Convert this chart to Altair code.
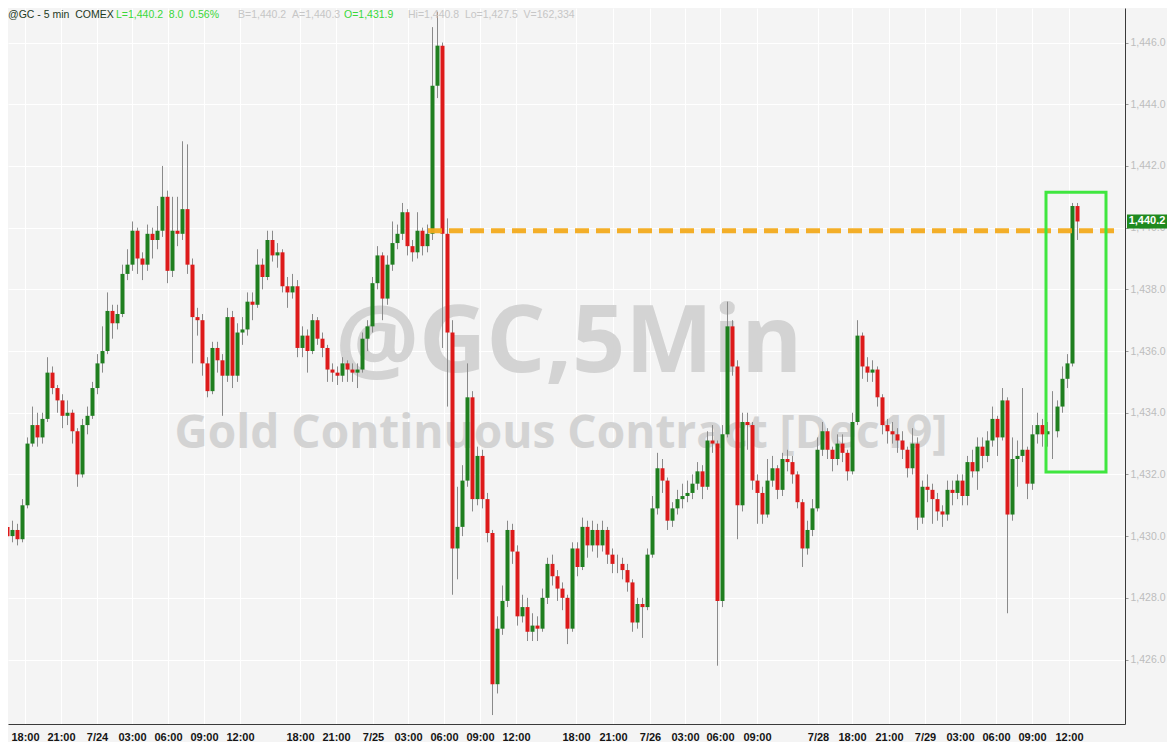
import altair as alt
import pandas as pd

# ---------------- data ----------------
first_open = 1430.5
closes = [
    1430.3, 1430.0, 1430.2, 1429.9, 1431.0, 1433.0, 1433.6, 1433.2, 1433.8, 1435.3,
    1434.8, 1434.4, 1433.9, 1434.0, 1433.4, 1432.0, 1433.6, 1433.9, 1434.8, 1435.6,
    1436.0, 1437.3, 1436.9, 1437.2, 1438.5, 1438.8, 1439.9, 1439.0, 1438.8, 1439.8,
    1439.6, 1439.9, 1441.0, 1438.6, 1439.9, 1439.8, 1440.6, 1438.8, 1437.1, 1437.0,
    1435.6, 1434.7, 1436.1, 1435.7, 1435.2, 1437.1, 1435.2, 1436.6, 1436.7, 1437.6,
    1437.5, 1438.8, 1438.4, 1439.6, 1439.1, 1439.2, 1438.1, 1437.9, 1438.1, 1436.1,
    1436.5, 1436.0, 1437.0, 1436.4, 1436.1, 1435.4, 1435.3, 1435.2, 1435.6, 1435.4,
    1435.3, 1435.4, 1436.4, 1436.8, 1438.2, 1439.1, 1437.7, 1438.8, 1439.5, 1439.8,
    1440.5, 1439.4, 1439.2, 1439.9, 1439.4, 1439.8, 1444.6, 1445.9, 1439.8, 1436.6,
    1429.6, 1430.3, 1431.8, 1434.5, 1431.2, 1432.6, 1431.2, 1430.1, 1425.2, 1427.0,
    1427.9, 1430.2, 1429.5, 1427.4, 1427.7, 1426.9, 1427.1, 1427.0, 1428.0, 1429.1,
    1428.7, 1428.3, 1428.0, 1427.0, 1429.6, 1429.0, 1430.3, 1429.7, 1430.2, 1429.7,
    1430.2, 1429.4, 1429.1, 1429.1, 1428.9, 1428.5, 1427.2, 1427.8, 1427.7, 1429.4,
    1430.9, 1432.2, 1431.8, 1430.5, 1430.9, 1431.2, 1431.3, 1431.4, 1431.7, 1432.1,
    1431.6, 1433.1, 1433.0, 1427.9, 1433.3, 1436.8, 1435.5, 1431.0, 1433.7, 1433.6,
    1431.8, 1431.4, 1430.7, 1431.8, 1432.2, 1431.5, 1432.5, 1432.4, 1432.0, 1431.1,
    1429.6, 1430.2, 1430.9, 1432.8, 1433.4, 1432.8, 1432.5, 1433.0, 1432.7, 1432.1,
    1433.7, 1436.5, 1435.5, 1435.3, 1435.4, 1434.5, 1433.6, 1433.4, 1433.3, 1433.1,
    1432.8, 1432.2, 1433.0, 1430.6, 1431.6, 1431.5, 1431.2, 1430.8, 1430.7, 1431.5,
    1431.4, 1431.8, 1431.3, 1432.4, 1432.1, 1432.9, 1432.6, 1433.1, 1433.8, 1433.2,
    1434.4, 1430.7, 1432.5, 1432.6, 1432.8, 1431.7, 1433.3, 1433.6, 1433.3, 1433.4,
    1433.4, 1434.2, 1435.1, 1435.6, 1440.7, 1440.2,
]
highs = [
    1430.7, 1430.5, 1430.5, 1430.4, 1431.2, 1433.2, 1434.2, 1434.0, 1434.0, 1435.8,
    1435.5, 1434.9, 1434.6, 1434.4, 1434.1, 1433.5, 1433.8, 1434.2, 1435.0, 1435.9,
    1436.8, 1437.9, 1437.5, 1437.5, 1438.8, 1439.3, 1440.2, 1440.0, 1439.2, 1440.1,
    1440.0, 1440.7, 1442.0, 1441.2, 1441.0, 1441.0, 1442.8, 1442.7, 1439.0, 1437.4,
    1437.2, 1435.8, 1436.3, 1436.3, 1435.9, 1437.4, 1437.3, 1436.9, 1437.1, 1437.9,
    1437.9, 1439.3, 1439.0, 1439.9, 1439.9, 1439.5, 1439.3, 1438.4, 1438.5, 1438.3,
    1436.8, 1436.7, 1437.2, 1437.1, 1436.6, 1436.2, 1435.6, 1435.5, 1435.8, 1435.7,
    1435.6, 1435.6, 1436.6, 1437.0, 1438.4, 1439.4, 1439.2, 1439.1, 1440.2, 1440.1,
    1440.8, 1440.6, 1439.6, 1440.5, 1440.0, 1440.1, 1446.5, 1447.0, 1446.0, 1440.3,
    1437.0, 1431.6, 1432.3, 1435.6, 1434.7, 1432.9, 1432.8, 1431.4, 1430.2, 1427.4,
    1428.4, 1430.5, 1430.4, 1429.7, 1428.1, 1428.0, 1427.5, 1427.4, 1428.3, 1429.3,
    1429.4, 1428.9, 1428.5, 1428.1, 1429.8, 1429.8, 1430.6, 1430.5, 1430.5, 1430.4,
    1430.5, 1430.3, 1429.6, 1429.4, 1429.3, 1429.1, 1428.6, 1428.0, 1428.0, 1429.6,
    1431.3, 1432.7, 1432.5, 1431.9, 1431.1, 1431.5, 1431.7, 1431.8, 1432.0, 1432.4,
    1432.3, 1433.4, 1433.6, 1433.1, 1433.6, 1437.6, 1437.0, 1435.7, 1434.0, 1434.0,
    1433.7, 1432.0, 1431.6, 1432.5, 1432.6, 1432.3, 1432.7, 1432.8, 1432.6, 1432.1,
    1431.2, 1430.5, 1431.2, 1433.2, 1433.7, 1433.5, 1432.9, 1433.3, 1433.3, 1432.8,
    1434.0, 1437.0, 1436.6, 1435.8, 1435.7, 1435.5, 1434.6, 1433.8, 1433.7, 1433.5,
    1433.4, 1432.9, 1433.5, 1433.2, 1431.8, 1432.0, 1431.7, 1431.4, 1431.0, 1431.8,
    1431.8, 1432.0, 1432.0, 1432.6, 1432.8, 1433.2, 1433.2, 1433.4, 1434.2, 1433.9,
    1434.8, 1434.5, 1433.2, 1433.1, 1434.8, 1432.9, 1433.6, 1434.0, 1433.8, 1433.7,
    1434.7, 1434.4, 1435.5, 1435.9, 1440.8, 1440.8,
]
lows = [
    1430.1, 1429.8, 1429.8, 1429.7, 1429.8, 1430.9, 1432.9, 1432.9, 1433.0, 1433.7,
    1434.6, 1434.0, 1433.5, 1433.6, 1433.0, 1431.6, 1431.9, 1433.3, 1433.8, 1434.6,
    1435.3, 1435.9, 1436.4, 1436.7, 1437.1, 1438.3, 1438.6, 1438.5, 1438.3, 1438.6,
    1439.0, 1439.3, 1439.7, 1438.2, 1438.4, 1439.4, 1439.6, 1438.5, 1435.6, 1436.5,
    1435.2, 1434.5, 1434.6, 1435.3, 1433.9, 1435.0, 1434.8, 1435.0, 1436.2, 1436.5,
    1437.0, 1437.4, 1438.0, 1438.3, 1438.9, 1438.7, 1437.9, 1437.4, 1437.7, 1435.8,
    1435.8, 1435.3, 1435.9, 1436.2, 1435.8, 1435.0, 1435.0, 1434.9, 1435.0, 1435.0,
    1435.0, 1434.8, 1435.3, 1436.0, 1436.6, 1438.0, 1437.0, 1437.5, 1438.6, 1439.3,
    1439.6, 1439.1, 1438.9, 1439.0, 1439.1, 1439.2, 1439.6, 1444.2, 1436.1, 1434.2,
    1428.1, 1428.6, 1430.0, 1431.6, 1430.8, 1431.0, 1430.9, 1429.8, 1424.2, 1424.9,
    1426.8, 1427.7, 1429.1, 1427.1, 1427.2, 1426.6, 1426.6, 1426.6, 1426.9, 1427.8,
    1428.4, 1427.9, 1427.6, 1426.5, 1426.9, 1428.7, 1428.9, 1429.3, 1429.5, 1429.3,
    1429.5, 1429.1, 1428.8, 1428.8, 1428.6, 1428.2, 1426.9, 1427.0, 1426.7, 1427.6,
    1429.3, 1430.7, 1431.4, 1430.2, 1430.3, 1430.7, 1430.9, 1431.1, 1431.2, 1431.5,
    1431.2, 1431.5, 1432.7, 1425.8, 1427.7, 1433.2, 1435.2, 1429.9, 1430.8, 1432.8,
    1431.5, 1430.4, 1430.4, 1430.6, 1431.6, 1431.2, 1431.3, 1432.1, 1431.7, 1430.9,
    1429.0, 1429.4, 1430.0, 1430.8, 1432.6, 1432.5, 1432.1, 1432.3, 1432.4, 1431.8,
    1432.0, 1433.6, 1435.1, 1435.0, 1435.0, 1434.2, 1433.3, 1433.0, 1433.0, 1432.7,
    1432.5, 1431.9, 1432.0, 1430.2, 1430.4, 1431.1, 1430.4, 1430.5, 1430.3, 1430.5,
    1431.0, 1431.2, 1431.0, 1431.0, 1431.9, 1431.5, 1432.2, 1432.4, 1432.9, 1432.6,
    1433.1, 1427.5, 1430.5, 1431.6, 1432.4, 1431.2, 1431.5, 1433.0, 1432.9, 1432.9,
    1432.5, 1433.2, 1434.0, 1434.8, 1435.5, 1439.6,
]

tick_pos = [4.5, 11.7, 18.9, 25.9, 33.1, 40.3, 47.5, 59.5, 66.7, 74.1, 81.1, 88.3,
            95.5, 102.7, 114.7, 122.1, 129.5, 136.5, 143.5, 150.9, 163.1, 169.9,
            177.3, 184.5, 191.5, 198.7, 205.9, 213.3]
tick_lab = ["18:00", "21:00", "7/24", "03:00", "06:00", "09:00", "12:00",
            "18:00", "21:00", "7/25", "03:00", "06:00", "09:00", "12:00",
            "18:00", "21:00", "7/26", "03:00", "06:00", "09:00",
            "7/28", "18:00", "21:00", "7/29", "03:00", "06:00", "09:00", "12:00"]
y_ticks = [1426, 1428, 1430, 1432, 1434, 1436, 1438, 1440, 1442, 1444, 1446]

level_price = 1439.9
level_start, level_end = 85.1, 223.5
box_x1, box_x2 = 208.7, 220.7
box_y1, box_y2 = 1432.08, 1441.15
last_price = 1440.2
last_label = "1,440.2"

SP = "\u00a0\u00a0"
header_texts = ["@GC - 5 min" + SP + "COMEX", "L=1,440.2" + SP + "8.0" + SP + "0.56%",
                "B=1,440.2" + SP + "A=1,440.3", "O=1,431.9",
                "Hi=1,440.8" + SP + "Lo=1,427.5" + SP + "V=162,334"]
header_x = [0, 108, 230, 336, 400]
header_kind = ["name", "hot", "dim", "hot", "dim"]

wm_texts = ["@GC,5Min", "Gold Continuous Contract [Dec19]"]
wm_x = [113.3, 111.7]
wm_y = [1435.32, 1432.86]
wm_size = [93, 46]

# ---------------- build ----------------
W, H = 1117, 716
XDOM = [1.1, 224.5]
YDOM = [1423.91, 1447.12]
BG = "#f4f4f4"

opens = [first_open] + closes[:-1]
df = pd.DataFrame({"i": list(range(len(closes))), "open": opens, "close": closes,
                   "high": highs, "low": lows})
df["dir"] = ["up" if c >= o else "down" for o, c in zip(opens, closes)]

lab_expr = ("[" + ",".join("'%s'" % s for s in tick_lab) + "][indexof(["
            + ",".join(str(p) for p in tick_pos) + "], datum.value)]")

xs = alt.Scale(domain=XDOM, nice=False, zero=False, padding=0)
ys = alt.Scale(domain=YDOM, nice=False, zero=False, padding=0)

x_axis = alt.Axis(values=tick_pos, labelExpr=lab_expr, grid=True, gridColor="#ffffff",
                  gridWidth=1, ticks=False, domain=True, domainColor="#3a3a3a",
                  labelFont="Liberation Sans", labelFontSize=11, labelFontWeight="bold",
                  labelColor="#151515", labelPadding=7, labelAngle=0, labelFlush=False,
                  labelOverlap=False, title=None)
y_axis = alt.Axis(orient="right", values=y_ticks, format=",.1f", grid=True,
                  gridColor="#ffffff", gridWidth=1, tickColor="#9a9a9a", tickSize=3,
                  labelPadding=2, labelFont="Liberation Sans", labelFontSize=10.5,
                  labelColor="#bdbdbd", domainColor="#3a3a3a", title=None)

base = alt.Chart(df)

wm = alt.Chart(pd.DataFrame({"x": wm_x, "y": wm_y, "t": wm_texts, "s": wm_size})).mark_text(
    font="Open Sans", fontWeight="bold", color="#d3d3d3", align="center",
    baseline="alphabetic"
).encode(x=alt.X("x:Q", scale=xs, axis=x_axis), y=alt.Y("y:Q", scale=ys, axis=y_axis),
         text="t:N", size=alt.Size("s:Q", scale=None, legend=None))

wicks = base.mark_rule(color="#8a8a8a", strokeWidth=1, clip=True).encode(
    x=alt.X("i:Q", scale=xs), y=alt.Y("low:Q", scale=ys), y2="high:Q")

bodies = base.mark_bar(size=4, clip=True).encode(
    x=alt.X("i:Q", scale=xs), y=alt.Y("open:Q", scale=ys), y2="close:Q",
    color=alt.Color("dir:N", scale=alt.Scale(domain=["up", "down"],
                                             range=["#1f7f1f", "#dd1a1a"]), legend=None))

level = alt.Chart(pd.DataFrame({"x": [level_start], "x2": [level_end], "y": [level_price]})).mark_rule(
    color="#f2aa1c", strokeWidth=5, strokeDash=[14, 7], opacity=0.95
).encode(x=alt.X("x:Q", scale=xs), x2="x2:Q", y=alt.Y("y:Q", scale=ys))

box = alt.Chart(pd.DataFrame({"x": [box_x1], "x2": [box_x2], "y": [box_y1], "y2": [box_y2]})).mark_rect(
    fillOpacity=0, stroke="#3fe63f", strokeWidth=3
).encode(x=alt.X("x:Q", scale=xs), x2="x2:Q", y=alt.Y("y:Q", scale=ys), y2="y2:Q")

tag_df = pd.DataFrame({"y": [last_price + 0.23], "y2": [last_price - 0.23],
                       "p": [last_price], "t": [last_label]})
tag_box = alt.Chart(tag_df).mark_rect(color="#1f8a1f").encode(
    x=alt.value(W + 2), x2=alt.value(W + 42), y=alt.Y("y:Q", scale=ys), y2="y2:Q")
tag_txt = alt.Chart(tag_df).mark_text(
    color="white", font="Liberation Sans", fontSize=11, fontWeight="bold",
    align="center", baseline="middle"
).encode(x=alt.value(W + 22), y=alt.Y("p:Q", scale=ys), text="t:N")

kind_colors = {"name": "#1d3a1d", "hot": "#39d839", "dim": "#c6c6c6"}
hdr_df = pd.DataFrame({"x": header_x, "t": header_texts,
                       "c": [kind_colors[k] for k in header_kind]})
header = alt.Chart(hdr_df).mark_text(
    font="Liberation Sans", fontSize=10.5, align="left", baseline="middle"
).encode(x=alt.X("x:Q", scale=None), y=alt.value(7), text="t:N",
         color=alt.Color("c:N", scale=None, legend=None))

chart = alt.layer(wm, wicks, bodies, level, box, tag_box, tag_txt, header).properties(
    width=W, height=H,
    autosize=alt.AutoSizeParams(type="none"),
    padding={"left": 0, "top": 0, "right": 42, "bottom": 18},
    background=BG,
).configure_view(fill=BG, stroke=None)

chart.save("out.html", embed_options={"renderer": "svg", "actions": False})
